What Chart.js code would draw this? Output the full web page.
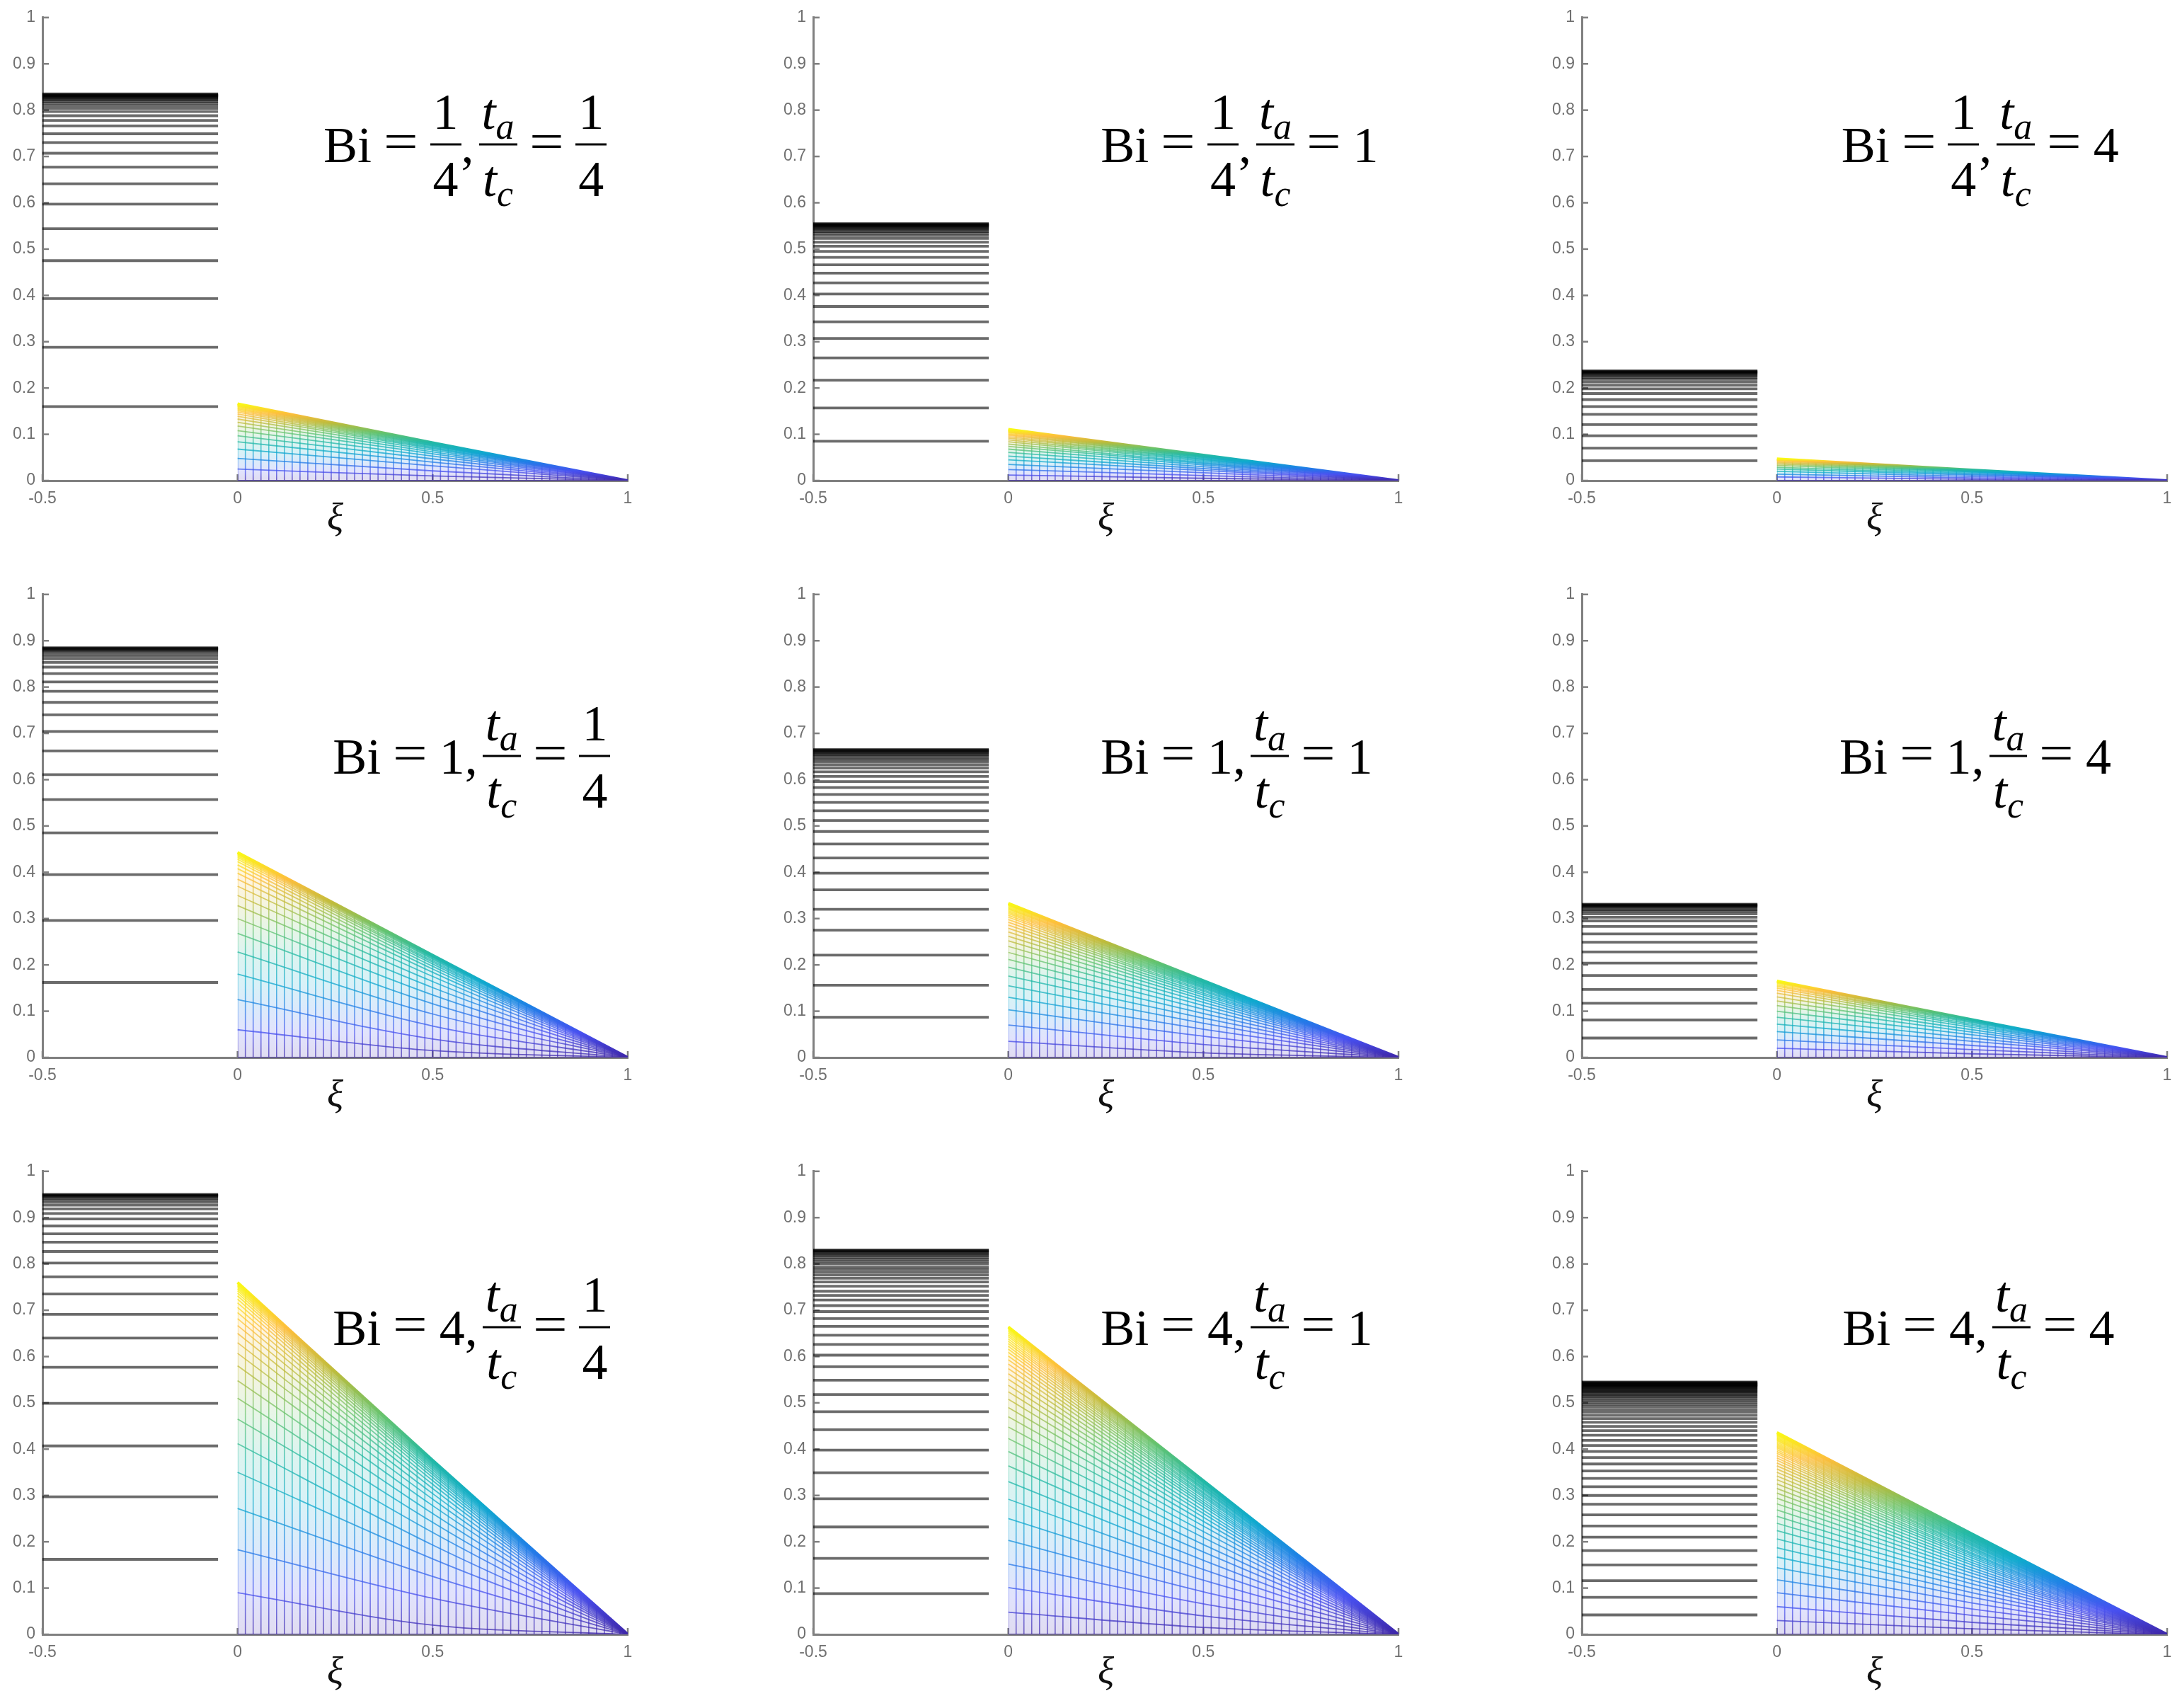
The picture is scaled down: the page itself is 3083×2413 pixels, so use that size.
<!DOCTYPE html>
<html>
<head>
<meta charset="utf-8">
<script src="https://cdn.jsdelivr.net/npm/chart.js@4.4.0/dist/chart.umd.min.js"></script>
<style>
  html, body { margin: 0; padding: 0; background: #fff; width: 3083px; height: 2413px; overflow: hidden; position: relative; }
  canvas { position: absolute; }
  .eq { position: absolute; display: flex; align-items: center; font-family: 'Liberation Serif', 'DejaVu Serif', serif;
        font-size: 72px; line-height: 1; color: #000; white-space: nowrap; transform: translateY(-50%); }
  .frac { display: inline-flex; flex-direction: column; align-items: center; }
  .num { border-bottom: 3px solid #000; padding: 0 4px 9px; }
  .den { padding: 11px 4px 0; }
  .op { margin: 0 21px; position: relative; top: -5px; transform: scaleX(1.2); display: inline-block; }
  .comma { margin-right: 7px; }
  .sub { font-size: 0.72em; font-style: italic; position: relative; top: 0.28em; }
</style>
</head>
<body>
<script>
// tick values
const xTicks = [-0.5, 0, 0.5, 1];
const yTicks = [0, 0.1, 0.2, 0.3, 0.4, 0.5, 0.6, 0.7, 0.8, 0.9, 1];
const meshX = [0, 0.02, 0.04, 0.06, 0.08, 0.1, 0.12, 0.14, 0.16, 0.18, 0.2, 0.22, 0.24, 0.26, 0.28, 0.3,
  0.32, 0.34, 0.36, 0.38, 0.4, 0.42, 0.44, 0.46, 0.48, 0.5, 0.52, 0.54, 0.56, 0.58, 0.6, 0.62, 0.64, 0.66,
  0.68, 0.7, 0.72, 0.74, 0.76, 0.78, 0.8, 0.82, 0.84, 0.86, 0.88, 0.9, 0.92, 0.94, 0.96, 0.98, 1];

// panel labels
const biText = ['1/4', '1/4', '1/4', '1', '1', '1', '4', '4', '4'];
const ratioText = ['1/4', '1', '4', '1/4', '1', '4', '1/4', '1', '4'];

// lumped region levels (xi from -0.5 to -0.05), one per time step
const wall1 = [0.160, 0.288, 0.393, 0.475, 0.544, 0.597, 0.641, 0.677, 0.707, 0.730, 0.749, 0.766, 0.778, 0.788, 0.797, 0.804, 0.810, 0.815, 0.819, 0.822, 0.825, 0.827, 0.829, 0.830, 0.831, 0.832, 0.833, 0.834, 0.835];
const wall2 = [0.085, 0.157, 0.217, 0.265, 0.307, 0.343, 0.376, 0.403, 0.427, 0.448, 0.466, 0.482, 0.495, 0.506, 0.515, 0.523, 0.529, 0.534, 0.538, 0.541, 0.544, 0.546, 0.548, 0.550, 0.551, 0.552, 0.553, 0.554, 0.555];
const wall3 = [0.043, 0.070, 0.097, 0.121, 0.143, 0.160, 0.175, 0.188, 0.198, 0.206, 0.213, 0.219, 0.223, 0.226, 0.229, 0.231, 0.233, 0.234, 0.235, 0.236, 0.237];
const wall4 = [0.162, 0.296, 0.395, 0.485, 0.557, 0.611, 0.662, 0.704, 0.740, 0.767, 0.791, 0.811, 0.829, 0.843, 0.853, 0.861, 0.867, 0.872, 0.876, 0.879, 0.881, 0.883, 0.884, 0.885];
const wall5 = [0.087, 0.156, 0.221, 0.275, 0.320, 0.362, 0.398, 0.431, 0.461, 0.488, 0.512, 0.533, 0.551, 0.568, 0.583, 0.596, 0.607, 0.617, 0.625, 0.632, 0.638, 0.643, 0.647, 0.651, 0.654, 0.657, 0.659, 0.661, 0.663, 0.664, 0.665];
const wall6 = [0.042, 0.081, 0.117, 0.147, 0.177, 0.204, 0.228, 0.249, 0.267, 0.283, 0.295, 0.303, 0.310, 0.315, 0.319, 0.322, 0.325, 0.327, 0.328, 0.329, 0.330, 0.331];
const wall7 = [0.162, 0.297, 0.407, 0.499, 0.577, 0.640, 0.691, 0.735, 0.772, 0.802, 0.827, 0.847, 0.865, 0.882, 0.897, 0.909, 0.919, 0.927, 0.933, 0.938, 0.942, 0.945, 0.947, 0.948, 0.949, 0.950];
const wall8 = [0.088, 0.164, 0.232, 0.293, 0.349, 0.398, 0.442, 0.481, 0.518, 0.549, 0.578, 0.603, 0.626, 0.646, 0.665, 0.682, 0.697, 0.710, 0.722, 0.732, 0.741, 0.752, 0.761, 0.769, 0.776, 0.782, 0.788, 0.793, 0.800, 0.805, 0.810, 0.814, 0.818, 0.821, 0.824, 0.826, 0.828, 0.829, 0.830];
const wall9 = [0.042, 0.080, 0.116, 0.150, 0.181, 0.210, 0.234, 0.258, 0.281, 0.300, 0.319, 0.337, 0.353, 0.368, 0.382, 0.395, 0.408, 0.419, 0.430, 0.440, 0.449, 0.458, 0.466, 0.473, 0.480, 0.486, 0.492, 0.497, 0.502, 0.506, 0.510, 0.514, 0.517, 0.520, 0.523, 0.525, 0.527, 0.529, 0.531, 0.533, 0.535, 0.536, 0.537, 0.538, 0.539, 0.540, 0.541, 0.542, 0.543, 0.544, 0.545];

// slab profiles: value at xi = 0 (face) and xi = 0.5 (mid); every profile ends at 0 at xi = 1
const face1 = [0, 0.025, 0.048, 0.068, 0.084, 0.097, 0.108, 0.118, 0.126, 0.133, 0.139, 0.144, 0.148, 0.151, 0.154, 0.156, 0.158, 0.160, 0.161, 0.162, 0.163, 0.164, 0.165, 0.166];
const mid1 = [0, 0.010, 0.021, 0.032, 0.040, 0.047, 0.053, 0.058, 0.062, 0.066, 0.069, 0.071, 0.073, 0.075, 0.076, 0.077, 0.078, 0.079, 0.080, 0.080, 0.081, 0.081, 0.082, 0.082];
const face2 = [0, 0.012, 0.024, 0.035, 0.045, 0.053, 0.061, 0.068, 0.074, 0.079, 0.084, 0.088, 0.092, 0.095, 0.098, 0.100, 0.102, 0.104, 0.105, 0.106, 0.107, 0.108, 0.109, 0.110, 0.111];
const mid2 = [0, 0.005, 0.011, 0.017, 0.022, 0.026, 0.030, 0.034, 0.037, 0.039, 0.042, 0.044, 0.046, 0.047, 0.049, 0.050, 0.051, 0.052, 0.052, 0.053, 0.053, 0.054, 0.054, 0.055, 0.055];
const face3 = [0, 0.008, 0.014, 0.020, 0.025, 0.029, 0.033, 0.036, 0.039, 0.041, 0.043, 0.044, 0.045, 0.046, 0.047];
const mid3 = [0, 0.003, 0.006, 0.009, 0.012, 0.014, 0.016, 0.018, 0.019, 0.020, 0.021, 0.022, 0.022, 0.023, 0.023];
const face4 = [0, 0.060, 0.125, 0.180, 0.228, 0.268, 0.300, 0.328, 0.350, 0.370, 0.385, 0.398, 0.408, 0.416, 0.423, 0.428, 0.432, 0.435, 0.437, 0.439, 0.440, 0.441, 0.442, 0.443];
const mid4 = [0, 0.015, 0.040, 0.068, 0.094, 0.116, 0.135, 0.151, 0.164, 0.175, 0.184, 0.191, 0.197, 0.202, 0.206, 0.209, 0.212, 0.214, 0.216, 0.217, 0.218, 0.219, 0.220, 0.221];
const face5 = [0, 0.035, 0.070, 0.103, 0.130, 0.155, 0.176, 0.195, 0.212, 0.227, 0.240, 0.252, 0.262, 0.271, 0.279, 0.286, 0.292, 0.298, 0.303, 0.307, 0.311, 0.314, 0.317, 0.320, 0.322, 0.324, 0.326, 0.328, 0.329, 0.330, 0.331, 0.332, 0.333];
const mid5 = [0, 0.010, 0.028, 0.046, 0.061, 0.074, 0.085, 0.095, 0.104, 0.112, 0.119, 0.125, 0.130, 0.135, 0.139, 0.143, 0.146, 0.149, 0.151, 0.153, 0.155, 0.157, 0.158, 0.160, 0.161, 0.162, 0.163, 0.164, 0.164, 0.165, 0.165, 0.166, 0.166];
const face6 = [0, 0.020, 0.038, 0.056, 0.072, 0.087, 0.100, 0.112, 0.122, 0.131, 0.139, 0.145, 0.150, 0.154, 0.157, 0.160, 0.162, 0.163, 0.164, 0.165];
const mid6 = [0, 0.008, 0.017, 0.026, 0.035, 0.042, 0.049, 0.055, 0.060, 0.065, 0.069, 0.072, 0.075, 0.077, 0.078, 0.080, 0.081, 0.081, 0.082, 0.082];
const face7 = [0, 0.090, 0.183, 0.272, 0.350, 0.412, 0.465, 0.510, 0.548, 0.580, 0.607, 0.630, 0.650, 0.667, 0.682, 0.695, 0.706, 0.716, 0.724, 0.731, 0.737, 0.742, 0.746, 0.749, 0.752, 0.754, 0.756, 0.758, 0.759, 0.760];
const mid7 = [0, 0.020, 0.078, 0.125, 0.163, 0.193, 0.220, 0.242, 0.261, 0.278, 0.292, 0.304, 0.315, 0.324, 0.332, 0.339, 0.345, 0.350, 0.355, 0.359, 0.362, 0.365, 0.367, 0.369, 0.371, 0.372, 0.373, 0.374, 0.375, 0.376];
const face8 = [0, 0.048, 0.101, 0.152, 0.203, 0.250, 0.292, 0.330, 0.364, 0.395, 0.423, 0.448, 0.470, 0.490, 0.508, 0.524, 0.538, 0.551, 0.563, 0.574, 0.584, 0.593, 0.601, 0.609, 0.616, 0.622, 0.628, 0.633, 0.638, 0.643, 0.647, 0.651, 0.654, 0.657, 0.659, 0.661, 0.663, 0.664];
const mid8 = [0, 0.015, 0.040, 0.066, 0.092, 0.117, 0.140, 0.160, 0.178, 0.194, 0.209, 0.222, 0.234, 0.244, 0.253, 0.261, 0.268, 0.275, 0.281, 0.286, 0.291, 0.296, 0.300, 0.304, 0.307, 0.311, 0.314, 0.316, 0.319, 0.321, 0.323, 0.325, 0.327, 0.328, 0.329, 0.330, 0.331, 0.332];
const face9 = [0, 0.030, 0.060, 0.090, 0.118, 0.144, 0.167, 0.187, 0.206, 0.224, 0.240, 0.255, 0.269, 0.282, 0.294, 0.305, 0.315, 0.325, 0.334, 0.342, 0.350, 0.357, 0.364, 0.370, 0.376, 0.381, 0.386, 0.391, 0.395, 0.399, 0.403, 0.406, 0.409, 0.412, 0.415, 0.418, 0.420, 0.422, 0.424, 0.426, 0.428, 0.430, 0.431, 0.432, 0.433, 0.434, 0.435, 0.436];
const mid9 = [0, 0.012, 0.026, 0.041, 0.055, 0.068, 0.080, 0.090, 0.100, 0.109, 0.117, 0.125, 0.132, 0.138, 0.144, 0.150, 0.155, 0.160, 0.165, 0.169, 0.173, 0.176, 0.180, 0.183, 0.186, 0.188, 0.191, 0.193, 0.195, 0.197, 0.199, 0.201, 0.202, 0.204, 0.205, 0.207, 0.208, 0.209, 0.210, 0.211, 0.212, 0.213, 0.214, 0.214, 0.215, 0.216, 0.216, 0.217];

const walls = [wall1, wall2, wall3, wall4, wall5, wall6, wall7, wall8, wall9];
const faces = [face1, face2, face3, face4, face5, face6, face7, face8, face9];
const mids = [mid1, mid2, mid3, mid4, mid5, mid6, mid7, mid8, mid9];

// layout (pixels) and label anchors (data units)
const colLeft = [60, 1149, 2235];
const rowTop = [23, 838, 1653];
const PLOT_W = 827, PLOT_H = 656;
const PAD_L = 60, PAD_T = 22, PAD_R = 20, PAD_B = 100;
const eqX = [0.22, 0.237, 0.165, 0.244, 0.237, 0.16, 0.244, 0.237, 0.168];
const eqY = [0.725, 0.725, 0.725, 0.65, 0.65, 0.65, 0.662, 0.662, 0.662];

const parula = [
  [0.00, '62,38,168'], [0.12, '71,80,240'], [0.25, '30,128,230'], [0.37, '15,170,205'],
  [0.50, '35,185,165'], [0.62, '100,195,110'], [0.75, '190,188,60'], [0.87, '253,190,60'], [1.00, '249,250,20']
];

function parulaGradient(ctx, y0, y1, alpha) {
  const g = ctx.createLinearGradient(0, y0, 0, y1);
  parula.forEach(([s, c]) => g.addColorStop(s, 'rgba(' + c + ',' + alpha + ')'));
  return g;
}

function lineGradient(chart, top, alpha) {
  const { chartArea, scales } = chart;
  if (!chartArea) return 'rgba(0,0,0,0)';
  chart.$grads = chart.$grads || {};
  if (!chart.$grads[alpha]) {
    chart.$grads[alpha] = parulaGradient(chart.ctx, scales.y.getPixelForValue(0), scales.y.getPixelForValue(top), alpha);
  }
  return chart.$grads[alpha];
}

function meshPattern(chart, top) {
  const { chartArea, scales } = chart;
  if (!chartArea) return 'rgba(0,0,0,0)';
  if (chart.$mesh) return chart.$mesh;
  const off = document.createElement('canvas');
  off.width = chart.width;
  off.height = chart.height;
  const c = off.getContext('2d');
  const y0 = scales.y.getPixelForValue(0);
  const y1 = scales.y.getPixelForValue(top);
  const x0 = scales.x.getPixelForValue(0);
  const x1 = scales.x.getPixelForValue(1);
  c.fillStyle = parulaGradient(c, y0, y1, 0.16);
  c.fillRect(x0, y1, x1 - x0, y0 - y1);
  c.strokeStyle = parulaGradient(c, y0, y1, 0.7);
  c.lineWidth = 1.6;
  meshX.forEach(v => {
    const px = scales.x.getPixelForValue(v);
    c.beginPath();
    c.moveTo(px, y0);
    c.lineTo(px, y1);
    c.stroke();
  });
  chart.$mesh = chart.ctx.createPattern(off, 'no-repeat');
  return chart.$mesh;
}

const inwardTicks = {
  id: 'inwardTicks',
  beforeDatasetsDraw(chart) {
    const { ctx, chartArea: a, scales: { x, y } } = chart;
    ctx.save();
    ctx.strokeStyle = '#808080';
    ctx.lineWidth = 2.5;
    yTicks.forEach(v => {
      const p = y.getPixelForValue(v);
      ctx.beginPath(); ctx.moveTo(a.left, p); ctx.lineTo(a.left + 9, p); ctx.stroke();
    });
    xTicks.forEach(v => {
      const p = x.getPixelForValue(v);
      ctx.beginPath(); ctx.moveTo(p, a.bottom); ctx.lineTo(p, a.bottom - 9); ctx.stroke();
    });
    ctx.restore();
  }
};

function fracHtml(t) {
  if (t.indexOf('/') < 0) return '<span>' + t + '</span>';
  const [n, d] = t.split('/');
  return '<span class="frac"><span class="num">' + n + '</span><span class="den">' + d + '</span></span>';
}

function makePanel(i) {
  const row = Math.floor(i / 3), col = i % 3;
  const wall = walls[i], face = faces[i], mid = mids[i];
  const top = face[face.length - 1];
  const left = colLeft[col] - PAD_L, topPx = rowTop[row] - PAD_T;

  const canvas = document.createElement('canvas');
  canvas.width = PLOT_W + PAD_L + PAD_R;
  canvas.height = PLOT_H + PAD_T + PAD_B;
  canvas.style.left = left + 'px';
  canvas.style.top = topPx + 'px';
  document.body.appendChild(canvas);

  const datasets = [];
  wall.forEach(v => datasets.push({
    data: [{ x: -0.5, y: v }, { x: -0.05, y: v }],
    borderColor: 'rgba(0,0,0,0.58)',
    borderWidth: 3.8,
    fill: false
  }));
  face.forEach((a, k) => {
    const last = k === face.length - 1;
    datasets.push({
      data: [{ x: 0, y: a }, { x: 0.5, y: mid[k] }, { x: 1, y: 0 }],
      borderColor: c => lineGradient(c.chart, top, last ? 1 : 0.75),
      borderWidth: last ? 4 : 1.8,
      cubicInterpolationMode: 'monotone',
      fill: last ? 'origin' : false,
      backgroundColor: last ? (c => meshPattern(c.chart, top)) : 'rgba(0,0,0,0)'
    });
  });

  const tickFont = { family: "'Liberation Sans', Arial, sans-serif", size: 23 };
  const chart = new Chart(canvas, {
    type: 'line',
    data: { datasets },
    options: {
      responsive: false,
      animation: false,
      events: [],
      layout: { padding: { left: 0, top: PAD_T, right: PAD_R, bottom: 0 } },
      elements: { point: { radius: 0 }, line: { tension: 0 } },
      plugins: { legend: { display: false }, tooltip: { enabled: false } },
      scales: {
        x: {
          type: 'linear', min: -0.5, max: 1,
          afterBuildTicks: s => { s.ticks = xTicks.map(v => ({ value: v })); },
          afterFit: s => { s.height = PAD_B; },
          grid: { display: false, drawTicks: false },
          border: { display: true, color: '#808080', width: 3 },
          ticks: { color: '#707070', font: tickFont, padding: 12, maxRotation: 0, autoSkip: false, callback: v => String(v) },
          title: { display: true, text: 'ξ', color: '#111', font: { family: "'Liberation Serif', serif", size: 54, style: 'italic' }, padding: { top: 0, bottom: 12 } }
        },
        y: {
          type: 'linear', min: 0, max: 1,
          afterBuildTicks: s => { s.ticks = yTicks.map(v => ({ value: v })); },
          afterFit: s => { s.width = PAD_L; },
          grid: { display: false, drawTicks: false },
          border: { display: true, color: '#808080', width: 3 },
          ticks: { color: '#707070', font: tickFont, padding: 10, autoSkip: false, callback: v => String(v) }
        }
      }
    },
    plugins: [inwardTicks]
  });

  const eq = document.createElement('div');
  eq.className = 'eq';
  eq.innerHTML = '<span>Bi</span><span class="op">=</span>' + fracHtml(biText[i]) +
    '<span class="comma">,</span>' +
    '<span class="frac"><span class="num"><i>t</i><span class="sub">a</span></span>' +
    '<span class="den"><i>t</i><span class="sub">c</span></span></span>' +
    '<span class="op">=</span>' + fracHtml(ratioText[i]);
  eq.style.left = (left + chart.scales.x.getPixelForValue(eqX[i])) + 'px';
  eq.style.top = (topPx + chart.scales.y.getPixelForValue(eqY[i])) + 'px';
  document.body.appendChild(eq);
}

for (let i = 0; i < 9; i++) makePanel(i);
</script>
</body>
</html>
